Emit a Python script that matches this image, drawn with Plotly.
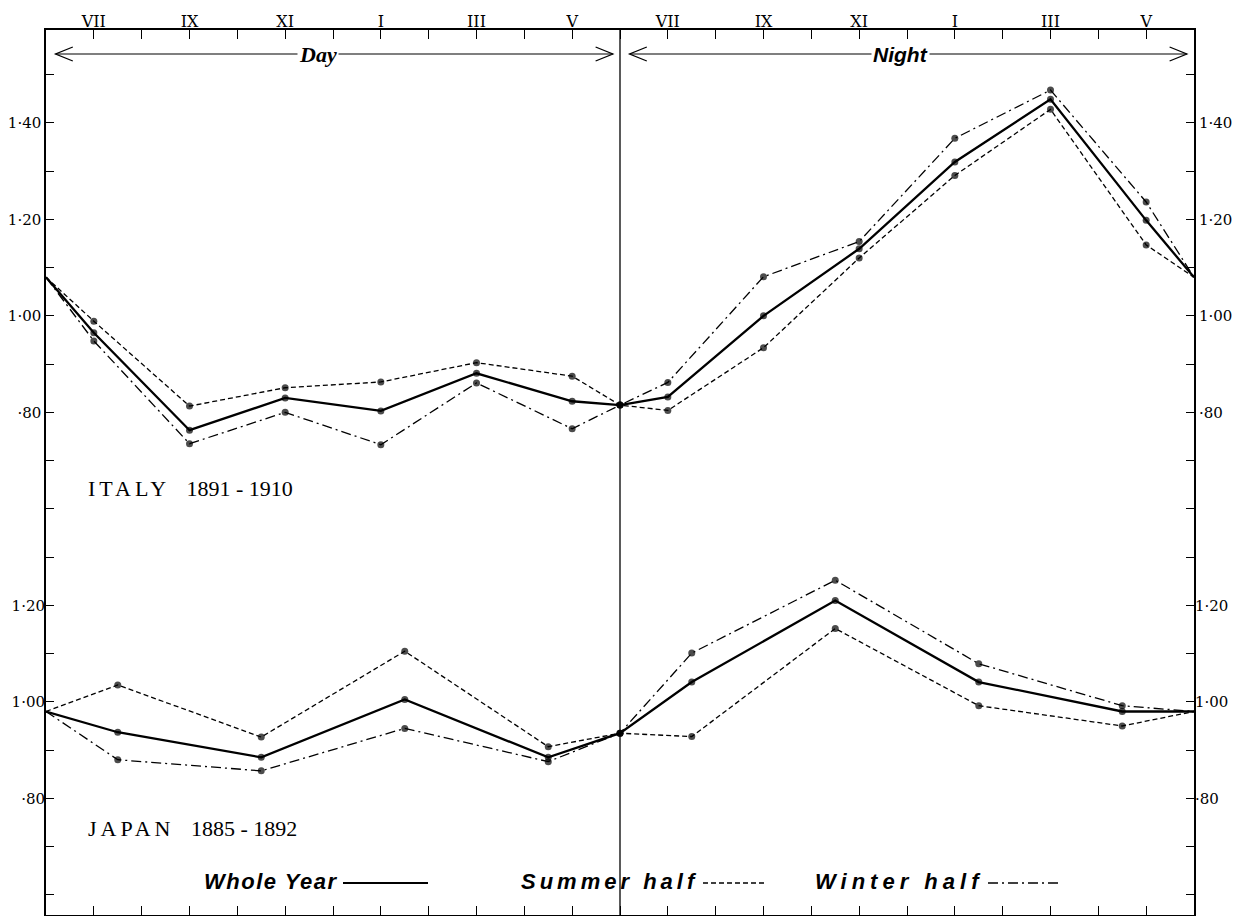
import plotly.graph_objects as go

# ---------------- data ----------------
# hours (6 = 6 a.m. start of Day, 18 = 6 p.m., 30 = 6 a.m. next morning)
italy_hours = [6, 7, 9, 11, 13, 15, 17, 18, 19, 21, 23, 25, 27, 29, 30]
italy_whole = [1.08, 0.965, 0.763, 0.830, 0.803, 0.881, 0.823, 0.815,
               0.832, 1.000, 1.139, 1.319, 1.449, 1.198, 1.08]
italy_summer = [1.08, 0.989, 0.813, 0.851, 0.863, 0.903, 0.875, 0.815,
                0.804, 0.934, 1.120, 1.291, 1.428, 1.147, 1.08]
italy_winter = [1.08, 0.948, 0.735, 0.800, 0.733, 0.861, 0.766, 0.815,
                0.862, 1.081, 1.154, 1.368, 1.468, 1.236, 1.08]

japan_hours = [6, 7.5, 10.5, 13.5, 16.5, 18, 19.5, 22.5, 25.5, 28.5, 30]
japan_whole = [0.98, 0.937, 0.885, 1.005, 0.885, 0.935, 1.041, 1.210, 1.041, 0.980, 0.98]
japan_summer = [0.98, 1.035, 0.927, 1.105, 0.907, 0.935, 0.928, 1.152, 0.992, 0.950, 0.98]
japan_winter = [0.98, 0.880, 0.857, 0.945, 0.876, 0.935, 1.101, 1.252, 1.079, 0.992, 0.98]

hour_ticks = list(range(7, 30))
hour_labels = ["VII", "", "IX", "", "XI", "", "I", "", "III", "", "V", "",
               "VII", "", "IX", "", "XI", "", "I", "", "III", "", "V"]

italy_yticks = [0.80, 1.00, 1.20, 1.40]
italy_ylabels = ["·80", "1·00", "1·20", "1·40"]
japan_yticks = [0.80, 1.00, 1.20]
japan_ylabels = ["·80", "1·00", "1·20"]

# ---------------- figure ----------------
BODY = 8                      # default page margin of the html body
W, H = 1240 - 2 * BODY, 924 - 2 * BODY
ML, MT = 46 - BODY, 30 - BODY
MR = W - (1194 - BODY)
MB = 1
X_RANGE = [6, 30]
IT_RANGE = [-0.2418, 1.5925]
JP_SHIFT = 0.80
JP_RANGE = [IT_RANGE[0] + JP_SHIFT, IT_RANGE[1] + JP_SHIFT]

SERIF = "Liberation Serif, DejaVu Serif, serif"
TICKSERIF = "DejaVu Serif, Liberation Serif, serif"
SANS = "Liberation Sans, Arial, sans-serif"

fig = go.Figure()


def add_series(x, y, dash, width, yaxis):
    sizes = [0] + [7] * (len(x) - 2) + [0]
    fig.add_trace(go.Scatter(
        x=x, y=y, mode="lines+markers", yaxis=yaxis,
        line=dict(color="black", width=width, dash=dash),
        marker=dict(size=sizes, color="black", line=dict(width=0)),
        showlegend=False, hoverinfo="skip"))


SOLID, DASH, DASHDOT = "solid", "5px,3px", "10px,4px,2px,4px"

add_series(italy_hours, italy_summer, DASH, 1.3, "y")
add_series(italy_hours, italy_winter, DASHDOT, 1.3, "y")
add_series(italy_hours, italy_whole, SOLID, 2.3, "y")
add_series(japan_hours, japan_summer, DASH, 1.3, "y2")
add_series(japan_hours, japan_winter, DASHDOT, 1.3, "y2")
add_series(japan_hours, japan_whole, SOLID, 2.3, "y2")

# empty traces so that the extra axes are drawn
fig.add_trace(go.Scatter(x=[], y=[], xaxis="x2", yaxis="y3", showlegend=False))
fig.add_trace(go.Scatter(x=[], y=[], yaxis="y4", showlegend=False))

xtickfont = dict(family=TICKSERIF, size=16, color="black")
ytickfont = dict(family=TICKSERIF, size=15, color="black")
common_y = dict(showgrid=False, zeroline=False, ticks="inside", ticklen=8,
                tickwidth=1.2, tickcolor="black", tickfont=ytickfont, fixedrange=True,
                automargin=False)
minor = dict(dtick=0.1, tick0=0, ticks="inside", ticklen=8, tickwidth=1.2,
             tickcolor="black", showgrid=False)

fig.update_layout(
    width=W, height=H,
    margin=dict(l=ML, r=MR, t=MT, b=MB, pad=0, autoexpand=False),
    paper_bgcolor="white", plot_bgcolor="white",
    xaxis=dict(range=X_RANGE, side="top", tickmode="array", tickvals=hour_ticks,
               ticktext=hour_labels, ticks="inside", ticklen=9, tickwidth=1.2,
               tickcolor="black", showline=True, linewidth=1.5, linecolor="black",
               showgrid=False, zeroline=False, tickfont=xtickfont, anchor="y",
               automargin=False, ticklabelstandoff=-5),
    xaxis2=dict(range=X_RANGE, overlaying="x", side="bottom", tickmode="array",
                tickvals=hour_ticks, ticks="inside", ticklen=9, tickwidth=1.2,
                tickcolor="black", showticklabels=False, showline=True,
                linewidth=1.5, linecolor="black", showgrid=False, zeroline=False,
                anchor="y", automargin=False),
    yaxis=dict(range=IT_RANGE, side="left", tickmode="array", tickvals=italy_yticks,
               ticktext=italy_ylabels, minor=minor, showline=True, linewidth=1.5,
               linecolor="black", **common_y),
    yaxis2=dict(range=JP_RANGE, side="left", overlaying="y", tickmode="array",
                tickvals=japan_yticks, ticktext=japan_ylabels, showline=False,
                **common_y),
    yaxis3=dict(range=IT_RANGE, side="right", overlaying="y", anchor="x",
                tickmode="array", tickvals=italy_yticks, ticktext=italy_ylabels,
                minor=minor, showline=True, linewidth=1.8, linecolor="black",
                **common_y),
    yaxis4=dict(range=JP_RANGE, side="right", overlaying="y", anchor="x",
                tickmode="array", tickvals=japan_yticks, ticktext=japan_ylabels,
                showline=False, **common_y),
)

# divider between Day and Night
fig.add_shape(type="line", xref="x", yref="paper", x0=18, x1=18, y0=0, y1=1,
              line=dict(color="black", width=1.3))

plot_h = H - MT - MB
plot_w = W - ML - MR


def py(pix):
    """window pixel row -> paper y"""
    return (H - MB - (pix - BODY)) / plot_h


def px(pix):
    """window pixel column -> paper x"""
    return (pix - BODY - ML) / plot_w


# Day / Night arrows
ya = py(54)
dy = 7 / plot_h
head = 0.36
for x_left, x_right in [(6.2, 17.85), (18.2, 29.85)]:
    fig.add_shape(type="line", xref="x", yref="paper", x0=x_left, x1=x_right,
                  y0=ya, y1=ya, line=dict(color="black", width=1.2))
    fig.add_shape(type="path", xref="x", yref="paper",
                  path=f"M {x_left + head},{ya + dy} L {x_left},{ya} L {x_left + head},{ya - dy}",
                  line=dict(color="black", width=1.3))
    fig.add_shape(type="path", xref="x", yref="paper",
                  path=f"M {x_right - head},{ya + dy} L {x_right},{ya} L {x_right - head},{ya - dy}",
                  line=dict(color="black", width=1.3))

fig.add_annotation(x=11.68, y=ya, xref="x", yref="paper", yanchor="middle",
                   text="<b><i>Day</i></b>",
                   showarrow=False, bgcolor="white", borderpad=1,
                   font=dict(family=SERIF, size=22, color="black"))
fig.add_annotation(x=23.87, y=ya, xref="x", yref="paper", yanchor="middle",
                   text="<b><i>Night</i></b>",
                   showarrow=False, bgcolor="white", borderpad=1,
                   font=dict(family=SANS, size=21, color="black"))

# panel titles
fig.add_annotation(x=px(86), y=py(488), xref="paper", yref="paper", xanchor="left",
                   yanchor="middle",
                   text='<span style="letter-spacing:4px">ITALY</span>&#160;&#160;&#160;1891 - 1910',
                   showarrow=False, font=dict(family=SERIF, size=22, color="black"))
fig.add_annotation(x=px(86), y=py(828), xref="paper", yref="paper", xanchor="left",
                   yanchor="middle",
                   text='<span style="letter-spacing:4px">JAPAN</span>&#160;&#160;&#160;1885 - 1892',
                   showarrow=False, font=dict(family=SERIF, size=22, color="black"))

# legend (text followed by line sample)
ly = py(881)
legend_items = [("Whole Year", 1.5, 340, 343, 428, SOLID, 2.2),
                ("Summer half", 4, 700, 703, 765, DASH, 1.3),
                ("Winter half", 5, 985, 988, 1062, DASHDOT, 1.3)]
for label, spacing, tx, l0, l1, dash, w in legend_items:
    fig.add_annotation(x=px(tx), y=ly, xref="paper", yref="paper", xanchor="right",
                       yanchor="middle",
                       text=f'<b><i><span style="letter-spacing:{spacing}px">{label}</span></i></b>',
                       showarrow=False,
                       font=dict(family=SANS, size=22, color="black"))
    fig.add_shape(type="line", xref="paper", yref="paper", x0=px(l0), x1=px(l1),
                  y0=py(883), y1=py(883),
                  line=dict(color="black", width=w, dash=dash))

fig.write_html("out.html")
